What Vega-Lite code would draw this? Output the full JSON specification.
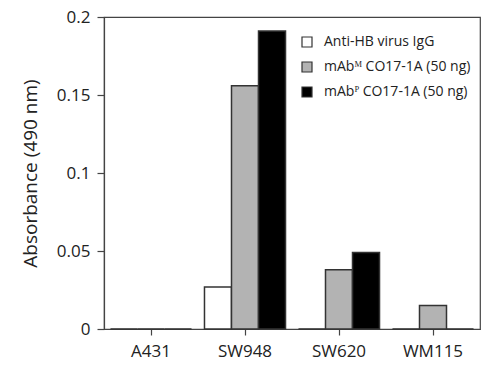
{
  "$schema": "https://vega.github.io/schema/vega-lite/v6.json",
  "autosize": "none",
  "width": 376,
  "height": 312,
  "padding": {"left": 104, "top": 17, "right": 1, "bottom": 37},
  "background": "white",
  "config": {
    "font": "Open Sans",
    "view": {"stroke": "#444", "strokeWidth": 1.2},
    "axis": {"domainColor": "#444", "tickColor": "#444", "domainWidth": 1.2, "tickWidth": 1.2, "grid": false, "labelColor": "#222", "titleColor": "#222"}
  },
  "data": {
    "values": [
      {"cell": "A431", "series": "Anti-HB virus IgG", "absorbance": 0},
      {"cell": "A431", "series": "mAbᴹ CO17-1A (50 ng)", "absorbance": 0},
      {"cell": "A431", "series": "mAbᴾ CO17-1A (50 ng)", "absorbance": 0},
      {"cell": "SW948", "series": "Anti-HB virus IgG", "absorbance": 0.027},
      {"cell": "SW948", "series": "mAbᴹ CO17-1A (50 ng)", "absorbance": 0.156},
      {"cell": "SW948", "series": "mAbᴾ CO17-1A (50 ng)", "absorbance": 0.191},
      {"cell": "SW620", "series": "Anti-HB virus IgG", "absorbance": 0},
      {"cell": "SW620", "series": "mAbᴹ CO17-1A (50 ng)", "absorbance": 0.038},
      {"cell": "SW620", "series": "mAbᴾ CO17-1A (50 ng)", "absorbance": 0.049},
      {"cell": "WM115", "series": "Anti-HB virus IgG", "absorbance": 0},
      {"cell": "WM115", "series": "mAbᴹ CO17-1A (50 ng)", "absorbance": 0.015},
      {"cell": "WM115", "series": "mAbᴾ CO17-1A (50 ng)", "absorbance": 0}
    ]
  },
  "mark": {"type": "bar", "stroke": "#333", "strokeWidth": 1.5},
  "encoding": {
    "x": {
      "field": "cell", "type": "nominal", "sort": ["A431", "SW948", "SW620", "WM115"],
      "scale": {"paddingInner": 0, "paddingOuter": 0},
      "axis": {"title": null, "labelAngle": 0, "labelFontSize": 17, "tickSize": 6, "labelPadding": 8, "domain": true}
    },
    "xOffset": {
      "field": "series", "type": "nominal",
      "sort": ["Anti-HB virus IgG", "mAbᴹ CO17-1A (50 ng)", "mAbᴾ CO17-1A (50 ng)"],
      "scale": {"paddingInner": 0, "paddingOuter": 0.24}
    },
    "y": {
      "field": "absorbance", "type": "quantitative",
      "scale": {"domain": [0, 0.2], "nice": false},
      "axis": {"title": "Absorbance (490 nm)", "values": [0, 0.05, 0.1, 0.15, 0.2], "format": "~g", "labelFontSize": 17, "tickSize": 7, "labelPadding": 7, "titleFontSize": 19, "titleFontWeight": "normal", "titlePadding": 16}
    },
    "fill": {
      "field": "series", "type": "nominal",
      "sort": ["Anti-HB virus IgG", "mAbᴹ CO17-1A (50 ng)", "mAbᴾ CO17-1A (50 ng)"],
      "scale": {"domain": ["Anti-HB virus IgG", "mAbᴹ CO17-1A (50 ng)", "mAbᴾ CO17-1A (50 ng)"], "range": ["#ffffff", "#b3b3b3", "#000000"]},
      "legend": {
        "title": null, "orient": "none", "legendX": 196, "legendY": 18,
        "symbolType": "square", "symbolSize": 100, "symbolStrokeColor": "#333", "symbolStrokeWidth": 1.2,
        "labelFontSize": 14, "labelColor": "#222", "rowPadding": 9, "labelOffset": 10, "labelLimit": 300
      }
    }
  }
}
